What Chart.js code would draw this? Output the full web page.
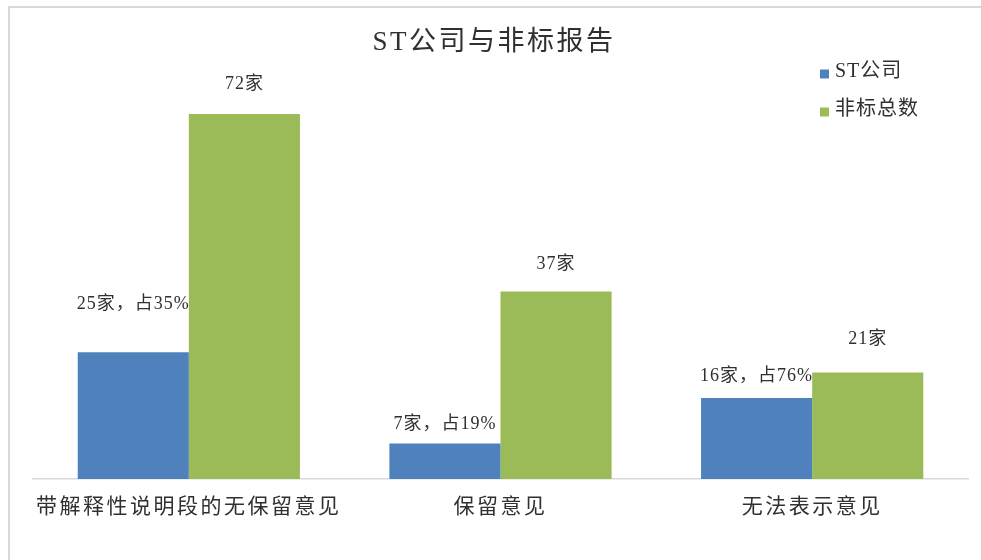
<!DOCTYPE html>
<html>
<head>
<meta charset="utf-8">
<script src="https://cdn.jsdelivr.net/npm/chart.js@4"></script>
<style>
  body { margin: 0; background: #fff; }
  .chart__wrap { width: 981px; height: 560px; }
</style>
</head>
<body>
<div class="chart__wrap">
  <canvas id="chart__1" width="981" height="560"></canvas>
</div>
<script>
"use strict";

// ** Data
const categories = ["带解释性说明段的无保留意见", "保留意见", "无法表示意见"];
const stCompanies = [25, 7, 16];
const totalReports = [72, 37, 21];
const stShare = [35, 19, 76];
const seriesNames = ["ST公司", "非标总数"];

const FONT = '"Liberation Serif", "Noto Sans CJK SC", sans-serif';
const TEXT = "#303030";

// how far above each bar its label sits
const labelLift = [
  [48, 19, 22],
  [30, 27, 33],
];

// ** Plugins
const frameAndSpacing = {
  id: "frameAndSpacing",
  beforeDraw: (chart) => {
    const { ctx, width, height } = chart;
    ctx.save();
    ctx.fillStyle = "#d9d9d9";
    ctx.fillRect(8, 6, width - 8, 2);
    ctx.fillRect(8, 6, 2, height - 6);
    ctx.restore();
    ctx.letterSpacing = "2.5px";
  },
};

const barLabels = {
  id: "barLabels",
  afterDatasetsDraw: (chart) => {
    const { ctx } = chart;
    ctx.save();
    ctx.letterSpacing = "1px";
    ctx.font = `18px ${FONT}`;
    ctx.fillStyle = TEXT;
    ctx.textAlign = "center";
    ctx.textBaseline = "middle";
    chart.data.datasets.forEach((ds, d) => {
      chart.getDatasetMeta(d).data.forEach((bar, i) => {
        const txt = d === 0 ? `${ds.data[i]}家，占${stShare[i]}%` : `${ds.data[i]}家`;
        ctx.fillText(txt, bar.x, bar.y - labelLift[d][i]);
      });
    });
    ctx.restore();
  },
};

const sideLegend = {
  id: "sideLegend",
  afterDraw: (chart) => {
    const { ctx } = chart;
    ctx.save();
    ctx.letterSpacing = "1px";
    ctx.font = `20px ${FONT}`;
    ctx.textBaseline = "middle";
    ctx.textAlign = "left";
    chart.data.datasets.forEach((ds, d) => {
      const y = 72 + d * 38;
      ctx.fillStyle = ds.backgroundColor;
      ctx.fillRect(820, y - 2.5, 9, 9);
      ctx.fillStyle = TEXT;
      ctx.fillText(ds.label, 835, y);
    });
    ctx.restore();
  },
};

// ** Chart
const config = {
  type: "bar",
  data: {
    labels: categories,
    datasets: [
      {
        label: seriesNames[0],
        data: stCompanies,
        backgroundColor: "#4f81bd",
      },
      {
        label: seriesNames[1],
        data: totalReports,
        backgroundColor: "#9bbb59",
      },
    ],
  },
  options: {
    responsive: false,
    animation: false,
    events: [],
    layout: { padding: { left: 20, right: 13, top: 0, bottom: 0 } },
    datasets: {
      bar: { categoryPercentage: 0.713, barPercentage: 1 },
    },
    plugins: {
      legend: { display: false },
      tooltip: { enabled: false },
      title: {
        display: true,
        text: "ST公司与非标报告",
        color: TEXT,
        font: { family: FONT, size: 27, weight: "normal" },
        padding: { top: 27, bottom: 14 },
      },
    },
    scales: {
      x: {
        grid: { display: false, drawTicks: false },
        border: { display: true, color: "#d9d9d9", width: 1.5 },
        ticks: {
          color: TEXT,
          font: { family: FONT, size: 21 },
          padding: 16,
          autoSkip: false,
          maxRotation: 0,
        },
        afterFit: (scale) => {
          scale.height = 81;
        },
      },
      y: {
        min: 0,
        max: 80,
        grid: { display: false, drawTicks: false },
        border: { display: false },
        ticks: { display: false },
        afterFit: (scale) => {
          scale.width = 13;
        },
      },
    },
  },
  plugins: [frameAndSpacing, barLabels, sideLegend],
};

const ctx = document.getElementById("chart__1").getContext("2d");
const chart = new Chart(ctx, config);
</script>
</body>
</html>
